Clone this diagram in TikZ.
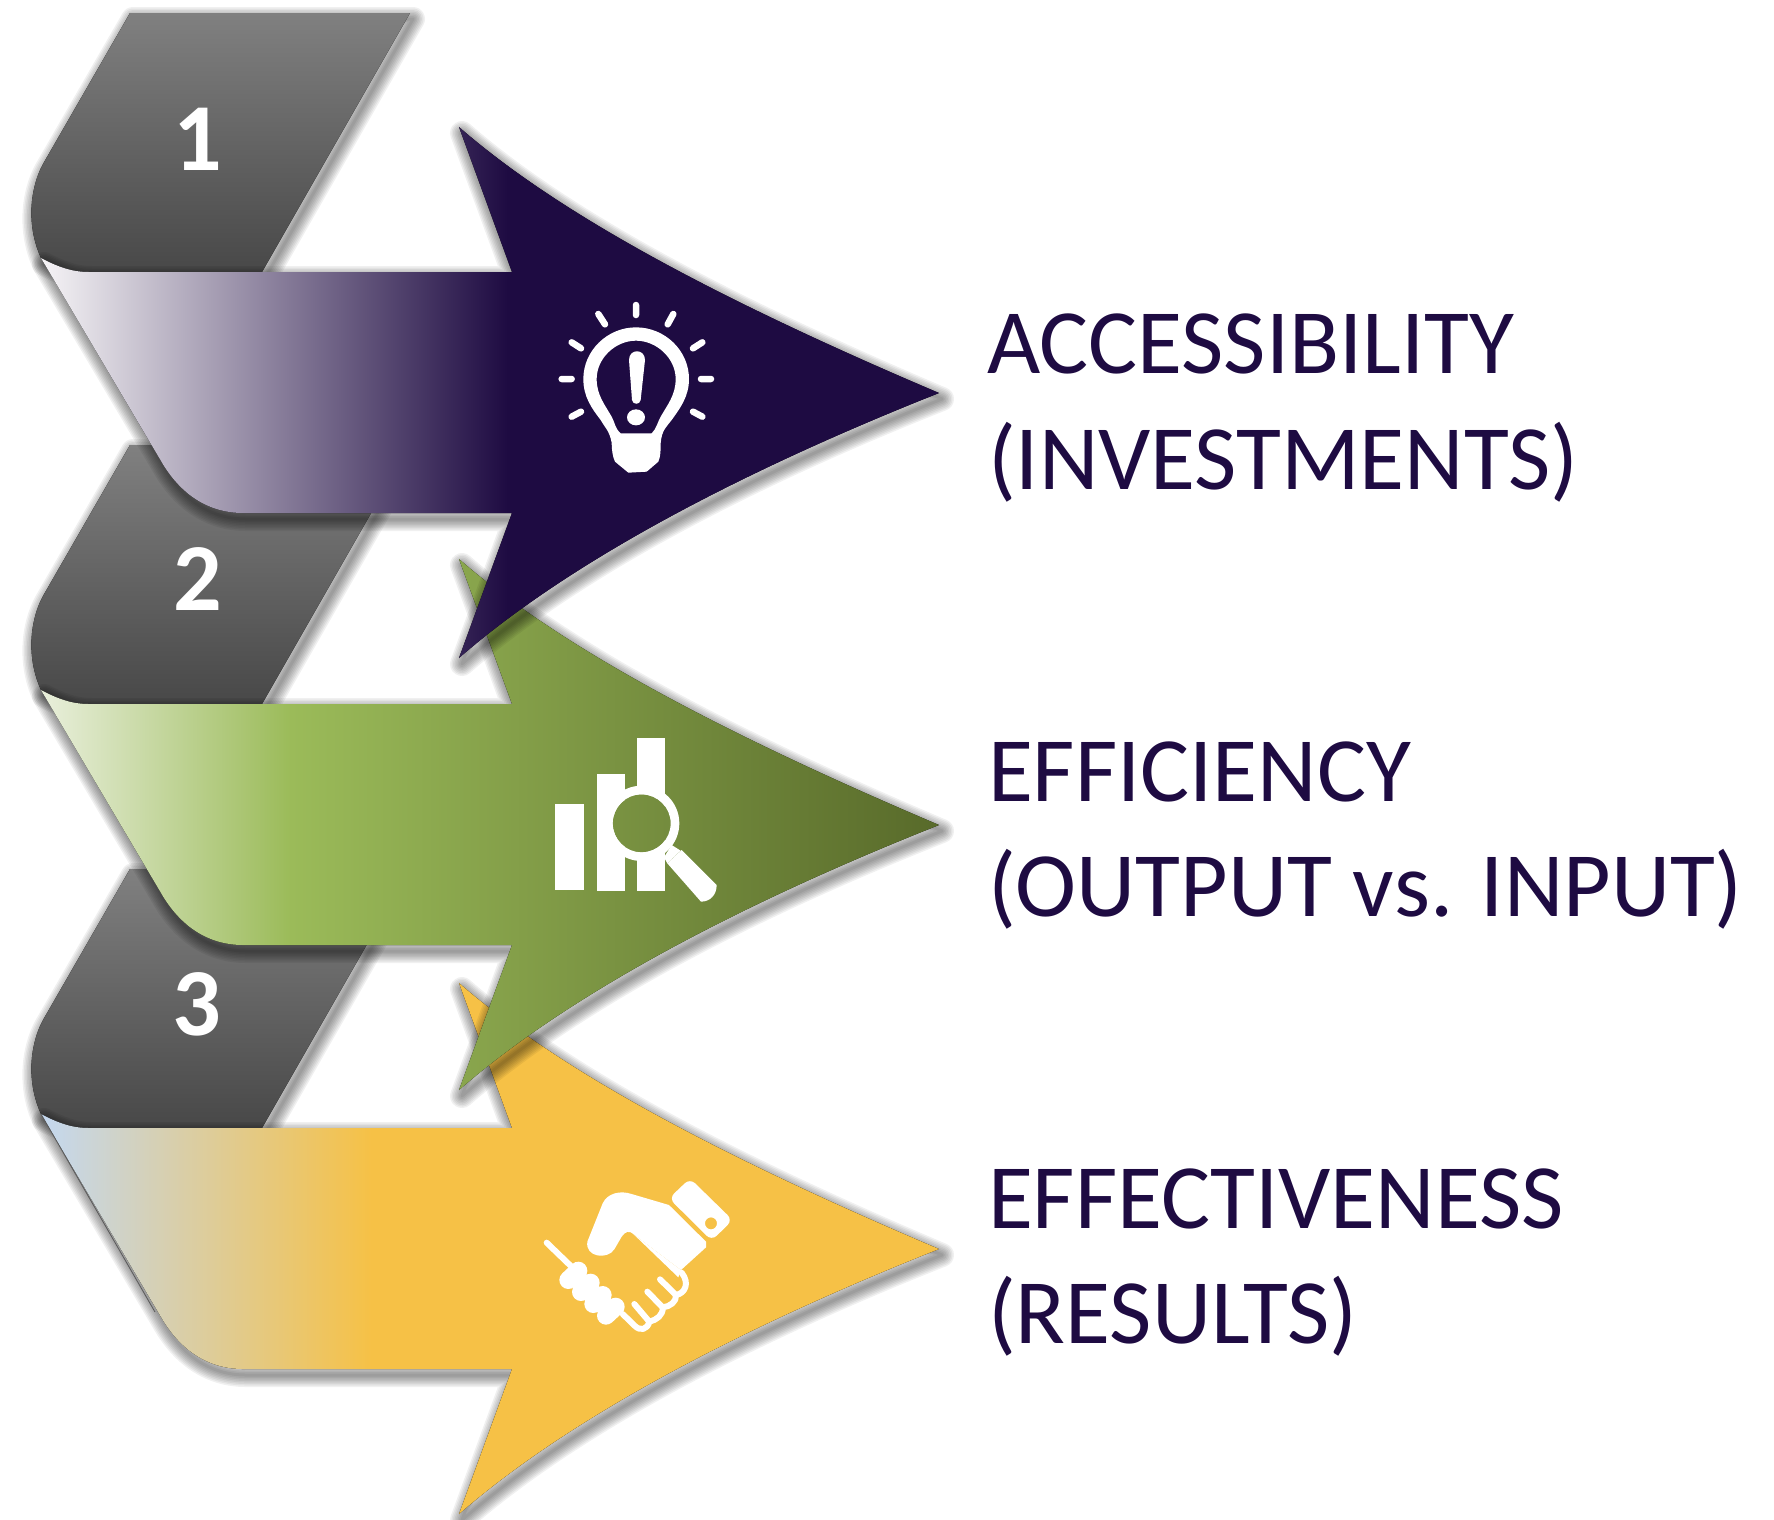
\documentclass[tikz,border=0pt]{standalone}
\usepackage{fontspec}
\setmainfont{Carlito}
\definecolor{navy}{HTML}{1E0B42}
\definecolor{aL}{HTML}{F6F4F6}
\definecolor{gL}{HTML}{E9EFDC}
\definecolor{gM}{HTML}{9BBB59}
\definecolor{gD}{HTML}{586A2A}
\definecolor{yL}{HTML}{C4D8F0}
\definecolor{yM}{HTML}{F6C146}
\definecolor{tabT}{HTML}{808080}
\definecolor{tabB}{HTML}{484848}
% stops: pos = 25 + 50*(x-41)/898
\pgfdeclarehorizontalshading{arrowA}{100bp}{color(0bp)=(aL); color(25bp)=(aL); color(51bp)=(navy); color(100bp)=(navy)}
\pgfdeclarehorizontalshading{arrowB}{100bp}{color(0bp)=(gL); color(25bp)=(gL); color(38.9bp)=(gM); color(75bp)=(gD); color(100bp)=(gD)}
\pgfdeclarehorizontalshading{arrowC}{100bp}{color(0bp)=(yL); color(25bp)=(yL); color(43.4bp)=(yM); color(100bp)=(yM)}
\def\ArrowShape{(41,258) .. controls (58,267) and (72,272) .. (89,272) -- (512,272) -- (459,127) .. controls (560,215) and (720,300) .. (939,393) .. controls (720,480) and (560,570) .. (459,658) -- (512,513) -- (243,513) .. controls (208,513) and (180,494) .. (161,461) -- cycle}
\def\TabShape{(41,258) .. controls (58,267) and (72,272) .. (89,272) -- (262,272) -- (410,13) -- (130,13) -- (43,164) .. controls (30,188) and (26,225) .. (41,258) -- cycle}
\newcommand{\softshadow}[1]{%
  \begin{scope}[shift={(3,6)}]
  \foreach \w in {24,21,18,15,12,9,6,3}{
    \draw[black,draw opacity=.06,line width=\w pt,line join=round] #1;
  }
  \end{scope}}
\tikzset{
  x=1pt,y=-1pt,
  label text/.style={anchor=base west,inner sep=0pt,outer sep=0pt,text=navy,font=\fontsize{92}{110}\selectfont},
  digit/.style={anchor=base,inner sep=0pt,outer sep=0pt,text=white,font=\fontsize{96}{110}\selectfont\bfseries},
  icon stroke/.style={draw=white,line cap=round,line join=round},
  icon fill/.style={fill=white,draw=none},
}
\begin{document}
\begin{tikzpicture}
\useasboundingbox (0,0) rectangle (1774,1519);
% ---------- third (back)
\begin{scope}[shift={(0,856)}]
  \softshadow{\TabShape}
  \fill[top color=tabT,bottom color=tabB] \TabShape;
  \softshadow{\ArrowShape}
  \fill[shading=arrowC] \ArrowShape;
  \draw[gray!70!black,line width=.8pt] (41,258) -- (155,456);
\end{scope}
% ---------- second
\begin{scope}[shift={(0,432)}]
  \softshadow{\TabShape}
  \fill[top color=tabT,bottom color=tabB] \TabShape;
  \softshadow{\ArrowShape}
  \fill[shading=arrowB] \ArrowShape;
\end{scope}
% ---------- first
\softshadow{\TabShape}
\fill[top color=tabT,bottom color=tabB] \TabShape;
\softshadow{\ArrowShape}
\fill[shading=arrowA] \ArrowShape;
% ---------- digits
\node[digit] (n1) at (198,170) {1};
\node[digit] (n2) at (198,610) {2};
\node[digit] (n3) at (197,1035) {3};
% ---------- labels
\node[label text] (t1a) at (987,373) {ACCESSIBILITY};
\node[label text] (t1b) at (988,489) {(INVESTMENTS)};
\node[label text] (t2a) at (988,801) {EFFICIENCY};
\node[label text] (t2b) at (988,916) {(OUTPUT vs. INPUT)};
\node[label text] (t3a) at (988,1228) {EFFECTIVENESS};
\node[label text] (t3b) at (988,1343) {(RESULTS)};
% ---------- bulb icon
\begin{scope}[shift={(530,280)},scale=1/3]
  \draw[icon stroke,line width=6.5pt]
    (318,75)--(318,105) (205,102)--(225,133) (430,102)--(413,133)
    (125,187)--(153,205) (517,187)--(489,205)
    (95,297)--(125,297) (543,297)--(513,297)
    (125,410)--(153,395) (517,410)--(489,395);
  \fill[icon fill,even odd rule]
    (318,142) .. controls (405,142) and (477,212) .. (477,297)
    .. controls (477,350) and (450,385) .. (425,420)
    .. controls (410,440) and (395,450) .. (392,490)
    .. controls (392,510) and (392,530) .. (385,545)
    -- (350,575) -- (295,578) -- (255,545)
    .. controls (248,530) and (245,510) .. (245,488)
    .. controls (238,450) and (222,440) .. (212,420)
    .. controls (185,385) and (160,350) .. (160,297)
    .. controls (160,212) and (232,142) .. (318,142) -- cycle
    (318,182) .. controls (256,182) and (200,235) .. (200,297)
    .. controls (200,345) and (225,375) .. (245,410)
    .. controls (255,428) and (255,445) .. (272,460)
    -- (365,460)
    .. controls (380,445) and (382,428) .. (392,410)
    .. controls (412,375) and (437,345) .. (437,297)
    .. controls (437,235) and (380,182) .. (318,182) -- cycle;
  \fill[icon fill] (297,240) .. controls (297,205) and (345,205) .. (345,240)
    -- (332,360) .. controls (330,375) and (308,375) .. (306,360) -- cycle;
  \fill[icon fill] (318,412) ellipse [x radius=27,y radius=24];
\end{scope}
% ---------- chart icon
\begin{scope}[shift={(530,720)},scale=1/3]
  \fill[icon fill] (75,252) rectangle (162,510);
  \begin{scope}[even odd rule]
    \clip (0,0) rectangle (660,630) (335,310) circle [radius=87];
    \fill[icon fill] (201,162) rectangle (285,513);
    \fill[icon fill] (321,53) rectangle (406,513);
  \end{scope}
  \fill[icon fill,even odd rule] (335,310) circle [radius=113] (335,310) circle [radius=87];
  \fill[icon fill] (425,375) -- (452,392) -- (412,430) -- (402,412) -- cycle;
  \fill[icon fill] (455,390) -- (560,495) .. controls (560,525) and (540,545) .. (513,545) -- (412,430) -- cycle;
\end{scope}
% ---------- handshake icon
\begin{scope}[shift={(520,1160)},scale=1/3]
  \fill[icon fill,even odd rule,rounded corners=7pt]
    (510,55) -- (638,180) -- (575,242) -- (447,115) -- cycle
    [sharp corners] (573,190) circle [radius=18];
  \fill[icon fill]
    (447,135) -- (558,245) -- (558,262) -- (483,330) -- (340,222)
    .. controls (328,210) and (315,215) .. (305,230)
    -- (283,268) .. controls (262,300) and (195,292) .. (202,245)
    -- (248,130) .. controls (262,100) and (300,90) .. (335,102) -- cycle;
  \fill[icon fill] (340,222) -- (483,330) -- (475,352) -- cycle;
  \draw[icon stroke,line width=6pt] (80,248) -- (165,330);
  \draw[icon stroke,line width=18pt]
    (145,360)--(175,332) (183,396)--(212,368) (220,432)--(248,405) (258,467)--(287,440);
  \draw[icon stroke,line width=6pt]
    (308,462) -- (345,498) .. controls (360,513) and (382,510) .. (388,485)
    .. controls (410,480) and (430,465) .. (428,442)
    .. controls (450,440) and (470,425) .. (468,405)
    .. controls (495,400) and (510,370) .. (485,338);
  \draw[icon stroke,line width=6pt]
    (420,358)--(468,405) (382,395)--(428,442) (343,432)--(388,485);
\end{scope}
\end{tikzpicture}
\end{document}
